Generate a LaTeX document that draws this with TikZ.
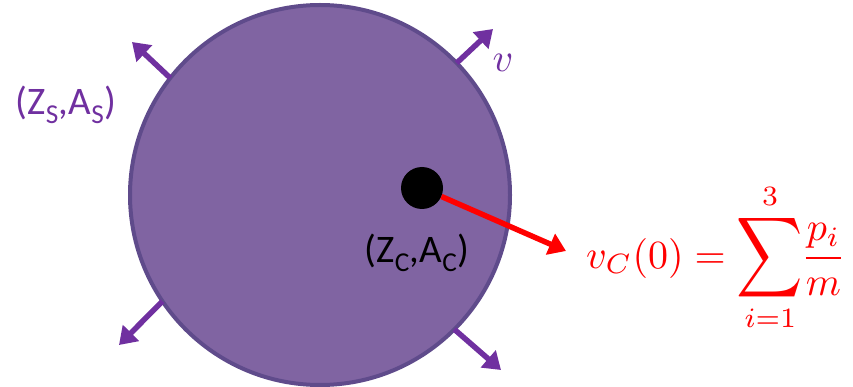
\documentclass[tikz,border=0pt]{standalone}
\usepackage{fontspec}
\usepackage{amsmath}
\usepackage{graphicx}
\setmainfont{Carlito}
\usetikzlibrary{arrows.meta}
\definecolor{ballfill}{HTML}{8064A2}
\definecolor{ballline}{HTML}{5F4B8B}
\definecolor{arrowpurple}{HTML}{7030A0}
\definecolor{eqred}{HTML}{FF0000}
\begin{document}
\begin{tikzpicture}[x=1pt,y=-1pt,
  ballstyle/.style={circle,draw=ballline,fill=ballfill,line width=4pt,minimum size=380pt,inner sep=0pt,outer sep=0pt},
  dotstyle/.style={circle,fill=black,minimum size=42pt,inner sep=0pt},
  outarrow/.style={draw=arrowpurple,line width=5.5pt,-{Triangle[length=17pt,width=22pt]}},
  redarrow/.style={draw=eqred,line width=5.5pt,-{Triangle[length=17pt,width=22pt]}},
  lbl/.style={inner sep=0pt,font=\fontsize{39}{45}\selectfont}]
\useasboundingbox (0,0) rectangle (853,387);
\node[ballstyle] (ball) at (320,195) {};
\coordinate (t1) at (132,42);
\coordinate (t2) at (493,29);
\coordinate (t3) at (119,345);
\coordinate (t4) at (501,370);
\draw[outarrow] (ball.142) -- (t1);
\draw[outarrow] (ball.44) -- (t2);
\draw[outarrow] (ball.214) -- (t3);
\draw[outarrow] (ball.315) -- (t4);
\node[dotstyle] (dot) at (422,188) {};
\coordinate (rt) at (566,251);
\draw[redarrow] (dot) -- (rt);
\node[lbl] (zc) at (417,253) {(Z\textsubscript{C},A\textsubscript{C})};
\node[lbl,text=arrowpurple] (zs) at (66,105) {(Z\textsubscript{S},A\textsubscript{S})};
\node[inner sep=0pt,text=arrowpurple] (v) at (503,63) {\scalebox{4}{$v$}};
\node[inner sep=0pt,anchor=base west,text=eqred] (eq) at (586,268)
  {\scalebox{4}{$\displaystyle v_C(0)=\mathop{\vcenter{\hbox{\scalebox{1.15}[1.4]{$\displaystyle\sum$}}}}\limits_{i=1}^{3}\mkern-4mu\frac{p_i}{m}$}};
\end{tikzpicture}
\end{document}
